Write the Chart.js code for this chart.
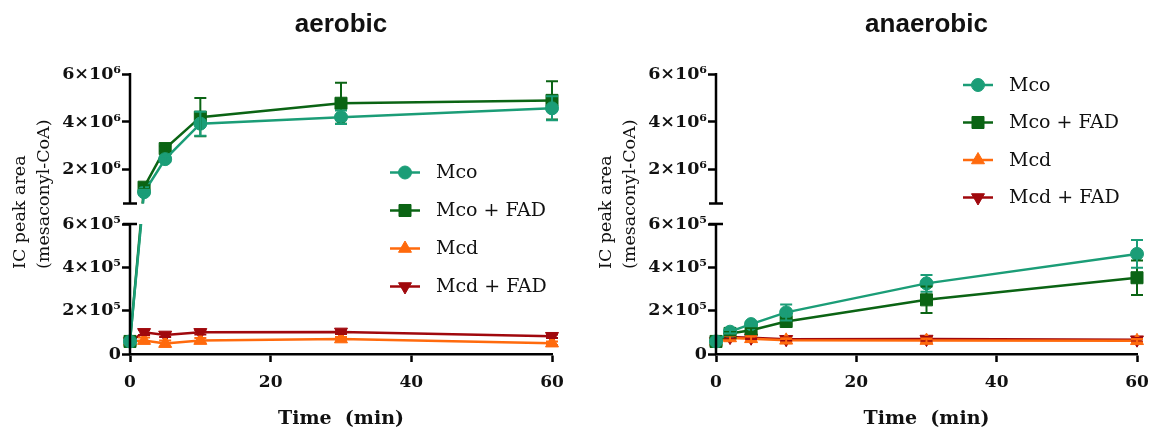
<!DOCTYPE html>
<html>
<head>
<meta charset="utf-8">
<script src="https://cdn.jsdelivr.net/npm/chart.js@4.4.1/dist/chart.umd.min.js"></script>
<style>
  html, body { margin: 0; padding: 0; background: #fff; }
  .row { display: flex; width: 1151px; height: 430px; }
  .panel { position: relative; height: 430px; }
</style>
</head>
<body>
<div class="row">
  <div class="panel" style="width:586px"><canvas id="aerobicChart"></canvas></div>
  <div class="panel" style="width:565px"><canvas id="anaerobicChart"></canvas></div>
</div>
<script>
// time points (min)
const times = [0, 2, 5, 10, 30, 60];
const seriesNames = ['Mco', 'Mco + FAD', 'Mcd', 'Mcd + FAD'];

// aerobic: mean and SD
const mcoAer      = [5.8e4, 1.07e6, 2.45e6, 3.93e6, 4.20e6, 4.57e6];
const mcoAerSd    = [0, 0.10e6, 0.12e6, 0.50e6, 0.28e6, 0.50e6];
const mcoFadAer   = [5.8e4, 1.28e6, 2.89e6, 4.20e6, 4.78e6, 4.90e6];
const mcoFadAerSd = [0, 0.08e6, 0.10e6, 0.80e6, 0.85e6, 0.80e6];
const mcdAer      = [5.8e4, 6.2e4, 4.8e4, 6.2e4, 6.9e4, 5.0e4];
const mcdAerSd    = [0, 1.4e4, 1.4e4, 1.2e4, 1.0e4, 0.8e4];
const mcdFadAer   = [5.8e4, 1.00e5, 8.8e4, 1.00e5, 1.02e5, 8.2e4];
const mcdFadAerSd = [0, 1.2e4, 1.0e4, 1.0e4, 1.0e4, 0.8e4];

// anaerobic: mean and SD
const mcoAna      = [5.8e4, 1.03e5, 1.38e5, 1.92e5, 3.26e5, 4.62e5];
const mcoAnaSd    = [0, 0.8e4, 1.0e4, 3.7e4, 3.9e4, 6.4e4];
const mcoFadAna   = [5.8e4, 0.95e5, 1.10e5, 1.50e5, 2.50e5, 3.52e5];
const mcoFadAnaSd = [0, 0.8e4, 1.0e4, 1.3e4, 6.1e4, 8.0e4];
const mcdAna      = [5.8e4, 7.4e4, 7.0e4, 6.3e4, 6.2e4, 6.1e4];
const mcdAnaSd    = [0, 1.0e4, 1.2e4, 1.0e4, 1.0e4, 0.8e4];
const mcdFadAna   = [5.8e4, 7.8e4, 7.5e4, 6.8e4, 6.9e4, 6.6e4];
const mcdFadAnaSd = [0, 0.6e4, 0.6e4, 0.8e4, 1.0e4, 0.8e4];

// y axis: two segments, 0–6e5 below and 6e5–6e6 above
const BREAK_AT = 6e5;
const AXIS_MAX = 6e6;
const yTickValues = [0, 2e5, 4e5, 6e5, 2e6, 4e6, 6e6];
const yTickLabels = ['0', '2×10⁵', '4×10⁵', '6×10⁵', '2×10⁶', '4×10⁶', '6×10⁶'];
const xTickValues = [0, 20, 40, 60];

const LOWER_SHARE = 130 / 280;
const GAP_SHARE = 20.5 / 280;

class BrokenLinearScale extends Chart.LinearScale {
  static id = 'brokenLinear';
  static defaults = {};

  buildTicks() {
    return yTickValues.map(v => ({ value: v }));
  }
  segments() {
    const h = this.bottom - this.top;
    const lowerTop = this.bottom - h * LOWER_SHARE;
    const upperBottom = lowerTop - h * GAP_SHARE;
    return { lowerTop, upperBottom };
  }
  getPixelForValue(value) {
    const { lowerTop, upperBottom } = this.segments();
    if (value <= BREAK_AT) {
      return this.bottom - (value / BREAK_AT) * (this.bottom - lowerTop);
    }
    return upperBottom - (value - BREAK_AT) / (AXIS_MAX - BREAK_AT) * (upperBottom - this.top);
  }
  getValueForPixel(pixel) {
    const { lowerTop, upperBottom } = this.segments();
    if (pixel >= lowerTop) return (this.bottom - pixel) / (this.bottom - lowerTop) * BREAK_AT;
    return BREAK_AT + (upperBottom - pixel) / (upperBottom - this.top) * (AXIS_MAX - BREAK_AT);
  }
}
Chart.register(BrokenLinearScale);

const colors = ['#1b9d77', '#0b6414', '#ff6a0d', '#a0080d'];
const markers = [
  { pointStyle: 'circle', radius: 6.5, rotation: 0 },
  { pointStyle: 'rect', radius: 8.5, rotation: 0 },
  { pointStyle: 'triangle', radius: 7.5, rotation: 0 },
  { pointStyle: 'triangle', radius: 7.5, rotation: 180 }
];

const serifBold = (size) => ({ family: '"DejaVu Serif", serif', size, weight: 'bold' });

// clips the axis gap, draws error bars, split axis line, titles and legend
const brokenAxisPlugin = {
  id: 'brokenAxis',
  beforeDatasetsDraw(chart) {
    const { ctx, width, height } = chart;
    const { lowerTop, upperBottom } = chart.scales.y.segments();
    ctx.save();
    ctx.beginPath();
    ctx.rect(0, 0, width, upperBottom);
    ctx.rect(0, lowerTop, width, height - lowerTop);
    ctx.clip();
  },
  afterDatasetsDraw(chart, args, opts) {
    const { ctx } = chart;
    const xs = chart.scales.x, ys = chart.scales.y;
    ctx.lineWidth = 2;
    for (let d = chart.data.datasets.length - 1; d >= 0; d--) {
      const ds = chart.data.datasets[d];
      ctx.strokeStyle = ds.borderColor;
      ds.data.forEach((pt, i) => {
        const sd = ds.errors[i];
        if (!sd) return;
        const x = xs.getPixelForValue(pt.x);
        const yHi = ys.getPixelForValue(pt.y + sd);
        const yLo = ys.getPixelForValue(pt.y - sd);
        ctx.beginPath();
        ctx.moveTo(x, yHi); ctx.lineTo(x, yLo);
        ctx.moveTo(x - 6, yHi); ctx.lineTo(x + 6, yHi);
        ctx.moveTo(x - 6, yLo); ctx.lineTo(x + 6, yLo);
        ctx.stroke();
      });
    }
    ctx.restore();

    // split y axis line with caps at the break
    const { lowerTop, upperBottom } = ys.segments();
    const ax = ys.right;
    ctx.save();
    ctx.strokeStyle = '#000';
    ctx.lineWidth = 2.5;
    ctx.beginPath();
    ctx.moveTo(ax, chart.chartArea.bottom); ctx.lineTo(ax, lowerTop);
    ctx.moveTo(ax, upperBottom); ctx.lineTo(ax, chart.chartArea.top - 1);
    ctx.moveTo(ax - 7, lowerTop); ctx.lineTo(ax + 7, lowerTop);
    ctx.moveTo(ax - 7, upperBottom); ctx.lineTo(ax + 7, upperBottom);
    ctx.stroke();
    ctx.restore();
  },
  afterDraw(chart, args, opts) {
    const { ctx, chartArea } = chart;
    ctx.save();

    // panel title
    ctx.fillStyle = '#111';
    ctx.font = 'bold 26px "Liberation Sans", Arial, sans-serif';
    ctx.textAlign = 'center';
    ctx.textBaseline = 'middle';
    ctx.fillText(opts.title, (chartArea.left + chartArea.right) / 2, 25);

    // y axis title, two lines
    ctx.font = '17.5px "DejaVu Serif", serif';
    ctx.textAlign = 'left';
    [['IC peak area', 20], ['(mesaconyl-CoA)', 44]].forEach(([txt, x]) => {
      ctx.save();
      ctx.translate(x, 269);
      ctx.rotate(-Math.PI / 2);
      ctx.fillText(txt, 0, 0);
      ctx.restore();
    });

    // legend
    ctx.font = '19px "DejaVu Serif", serif';
    chart.data.datasets.forEach((ds, i) => {
      const y = opts.legendY + i * opts.legendStep;
      const x0 = opts.legendX;
      ctx.strokeStyle = ds.borderColor;
      ctx.fillStyle = ds.borderColor;
      ctx.lineWidth = 2.5;
      ctx.beginPath();
      ctx.moveTo(x0, y); ctx.lineTo(x0 + 30, y);
      ctx.stroke();
      ctx.lineWidth = 1;
      Chart.helpers.drawPoint(ctx, {
        pointStyle: ds.pointStyle, radius: ds.pointRadius,
        rotation: ds.pointRotation, borderWidth: 1
      }, x0 + 15, y);
      ctx.fillStyle = '#111';
      ctx.textAlign = 'left';
      ctx.fillText(ds.label, x0 + 46, y + 1);
    });
    ctx.restore();
  }
};

function makeDatasets(values, errors) {
  return seriesNames.map((name, i) => ({
    label: name,
    data: values[i],
    errors: errors[i],
    borderColor: colors[i],
    backgroundColor: colors[i],
    borderWidth: 2.5,
    tension: 0,
    clip: false,
    pointStyle: markers[i].pointStyle,
    pointRadius: markers[i].radius,
    pointRotation: markers[i].rotation,
    pointBorderWidth: 1,
    pointBackgroundColor: colors[i],
    pointBorderColor: colors[i]
  }));
}

function makeChart(id, title, values, errors, canvasWidth, plotRight, legend) {
  const ctx = document.getElementById(id).getContext('2d');
  return new Chart(ctx, {
    type: 'line',
    data: { labels: times, datasets: makeDatasets(values, errors) },
    options: {
      responsive: true,
      maintainAspectRatio: false,
      animation: false,
      layout: { padding: { top: 74, right: canvasWidth - plotRight, bottom: 0, left: 0 } },
      scales: {
        x: {
          type: 'linear', min: 0, max: 60,
          afterFit: s => { s.height = 76; s.paddingLeft = 0; s.paddingRight = 0; },
          afterBuildTicks: s => { s.ticks = xTickValues.map(v => ({ value: v })); },
          grid: { drawOnChartArea: false, tickLength: 8, tickWidth: 2.5, tickColor: '#000' },
          border: { display: true, width: 2.5, color: '#000' },
          ticks: { font: serifBold(17), color: '#111', padding: 10, maxRotation: 0 },
          title: { display: true, text: 'Time  (min)', font: serifBold(19), color: '#111', padding: { top: 0, bottom: 0 } }
        },
        y: {
          type: 'brokenLinear', min: 0, max: AXIS_MAX,
          afterFit: s => { s.width = 130; s.paddingTop = 0; s.paddingBottom = 0; },
          grid: { drawOnChartArea: false, tickLength: 8, tickWidth: 2.5, tickColor: '#000' },
          border: { display: false },
          ticks: { autoSkip: false, padding: 1, font: serifBold(17.5), color: '#111', callback: (v, i) => yTickLabels[i] }
        }
      },
      plugins: {
        legend: { display: false },
        title: { display: false },
        tooltip: { enabled: false },
        brokenAxis: { title, ...legend }
      }
    },
    plugins: [brokenAxisPlugin]
  });
}

const pairsToData = (series) => series.map(s => s.map((v, i) => ({ x: times[i], y: v })));

makeChart('aerobicChart', 'aerobic',
  pairsToData([mcoAer, mcoFadAer, mcdAer, mcdFadAer]),
  [mcoAerSd, mcoFadAerSd, mcdAerSd, mcdFadAerSd],
  586, 552, { legendX: 390, legendY: 172.5, legendStep: 38 });

makeChart('anaerobicChart', 'anaerobic',
  pairsToData([mcoAna, mcoFadAna, mcdAna, mcdFadAna]),
  [mcoAnaSd, mcoFadAnaSd, mcdAnaSd, mcdFadAnaSd],
  565, 551, { legendX: 377, legendY: 85, legendStep: 37.5 });
</script>
</body>
</html>
